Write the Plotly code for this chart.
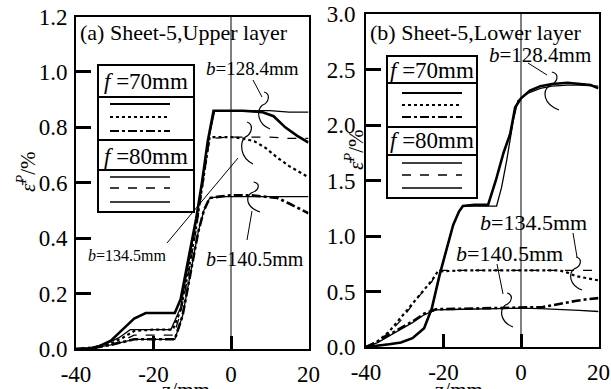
import plotly.graph_objects as go

W, H = 611, 389
FONT = "Liberation Serif"

# ---------------- data: panel (a) upper layer ----------------
a_b1284_f70_z = [-40, -37, -34, -31, -28, -25, -22, -18, -14.5, -13, -11, -9, -7.5, -6, -4.5, -2, 3, 8, 11, 14, 17, 20]
a_b1284_f70_v = [0, 0, 0.01, 0.03, 0.07, 0.11, 0.13, 0.13, 0.13, 0.18, 0.32, 0.47, 0.6, 0.75, 0.86, 0.86, 0.86, 0.855, 0.84, 0.8, 0.77, 0.745]
a_b1284_f80_z = [-40, -36, -32, -29, -26, -20, -15.5, -13, -11, -9, -7.5, -6, -4.2, 0, 5, 10, 15, 20]
a_b1284_f80_v = [0, 0.005, 0.02, 0.04, 0.07, 0.07, 0.07, 0.15, 0.3, 0.46, 0.6, 0.74, 0.86, 0.86, 0.86, 0.86, 0.855, 0.855]
a_b1345_f70_z = [-40, -35, -31, -28, -25, -20, -15, -13, -11, -9, -7.5, -6.5, -5.5, -3, 0, 3, 6, 9, 12, 15, 18, 20]
a_b1345_f70_v = [0, 0.005, 0.02, 0.04, 0.065, 0.07, 0.07, 0.14, 0.28, 0.44, 0.58, 0.68, 0.765, 0.765, 0.765, 0.76, 0.75, 0.725, 0.69, 0.66, 0.635, 0.62]
a_b1345_f80_z = [-40, -35, -31, -28, -25, -20, -14.8, -13, -11, -9, -7.5, -6.5, -5.5, 0, 5, 10, 15, 20]
a_b1345_f80_v = [0, 0.004, 0.015, 0.03, 0.05, 0.05, 0.05, 0.13, 0.27, 0.43, 0.57, 0.67, 0.76, 0.765, 0.765, 0.765, 0.76, 0.76]
a_b1405_f70_z = [-40, -35, -31, -28, -25, -20, -14.5, -12.5, -10.5, -8.5, -7, -5.5, -3, 0, 5, 9, 12, 15, 18, 20]
a_b1405_f70_v = [0, 0.005, 0.015, 0.025, 0.035, 0.035, 0.035, 0.12, 0.27, 0.42, 0.5, 0.545, 0.55, 0.555, 0.555, 0.55, 0.545, 0.525, 0.505, 0.49]
a_b1405_f80_z = [-40, -35, -31, -28, -25, -20, -14.5, -12.5, -10.5, -8.5, -7, -5.5, -3, 0, 5, 10, 15, 20]
a_b1405_f80_v = [0, 0.005, 0.015, 0.025, 0.035, 0.035, 0.035, 0.12, 0.27, 0.42, 0.5, 0.545, 0.55, 0.55, 0.55, 0.55, 0.55, 0.55]

# ---------------- data: panel (b) lower layer ----------------
b_b1284_f70_z = [-40, -37, -34, -31, -28, -25, -23, -21, -19, -17.5, -16, -15, -12, -8.5, -6.5, -4.5, -2.8, -1.5, 0, 2.3, 5, 8, 12, 15, 18, 20]
b_b1284_f70_v = [0, 0.01, 0.025, 0.04, 0.08, 0.17, 0.35, 0.65, 0.92, 1.1, 1.22, 1.27, 1.28, 1.28, 1.5, 1.75, 1.92, 2.16, 2.24, 2.31, 2.35, 2.37, 2.38, 2.37, 2.36, 2.33]
b_b1284_f80_z = [-40, -37, -34, -31, -28, -25, -23, -21, -19, -17.5, -16, -15, -12, -6.3, -5, -3.7, -2, -0.8, 2, 5, 8, 12, 15, 18, 20]
b_b1284_f80_v = [0, 0.01, 0.025, 0.04, 0.08, 0.17, 0.35, 0.65, 0.92, 1.1, 1.22, 1.27, 1.27, 1.27, 1.44, 1.68, 2.04, 2.22, 2.29, 2.33, 2.35, 2.36, 2.36, 2.35, 2.35]
b_b1345_f70_z = [-40, -37, -34, -31.4, -27, -23, -21.5, -15, -5, 0, 5, 10, 12, 14, 17, 20]
b_b1345_f70_v = [0, 0.05, 0.14, 0.25, 0.44, 0.6, 0.68, 0.69, 0.69, 0.69, 0.69, 0.69, 0.67, 0.64, 0.62, 0.6]
b_b1345_f80_z = [-40, -37, -34, -31, -27, -23, -21.5, -15, -5, 0, 5, 10, 15, 20]
b_b1345_f80_v = [0, 0.05, 0.13, 0.24, 0.43, 0.59, 0.69, 0.69, 0.69, 0.69, 0.69, 0.69, 0.69, 0.69]
b_b1405_f70_z = [-40, -37, -34, -31, -28, -25, -22, -15, -5, 0, 5.6, 8, 11.6, 14, 17, 20]
b_b1405_f70_v = [0, 0.05, 0.11, 0.17, 0.23, 0.3, 0.34, 0.345, 0.35, 0.355, 0.36, 0.375, 0.4, 0.415, 0.43, 0.44]
b_b1405_f80_z = [-40, -37, -34, -31, -28, -25, -22, -15, -5, 0, 5, 10, 15, 20]
b_b1405_f80_v = [0, 0.04, 0.1, 0.16, 0.22, 0.29, 0.335, 0.34, 0.345, 0.35, 0.345, 0.34, 0.33, 0.32]

a_yticks = [0.0, 0.2, 0.4, 0.6, 0.8, 1.0, 1.2]
b_yticks = [0.0, 0.5, 1.0, 1.5, 2.0, 2.5, 3.0]
xticks = [-40, -20, 0, 20]

# line styles: f=70 -> thick solid / dot / dashdot ; f=80 -> thin solid / dash / solid
STY = {
    ("f70", 0): dict(width=2.6, dash="solid"),
    ("f70", 1): dict(width=2.2, dash="dot"),
    ("f70", 2): dict(width=2.6, dash="dashdot"),
    ("f80", 0): dict(width=1.3, dash="solid"),
    ("f80", 1): dict(width=1.3, dash="dash"),
    ("f80", 2): dict(width=1.3, dash="solid"),
}

fig = go.Figure()

def add(z, v, key, xa, ya):
    s = STY[key]
    fig.add_trace(go.Scatter(x=z, y=v, mode="lines", xaxis=xa, yaxis=ya, showlegend=False,
                             line=dict(color="black", width=s["width"], dash=s["dash"])))

add(a_b1284_f80_z, a_b1284_f80_v, ("f80", 0), "x", "y")
add(a_b1345_f80_z, a_b1345_f80_v, ("f80", 1), "x", "y")
add(a_b1405_f80_z, a_b1405_f80_v, ("f80", 2), "x", "y")
add(a_b1284_f70_z, a_b1284_f70_v, ("f70", 0), "x", "y")
add(a_b1345_f70_z, a_b1345_f70_v, ("f70", 1), "x", "y")
add(a_b1405_f70_z, a_b1405_f70_v, ("f70", 2), "x", "y")

add(b_b1284_f80_z, b_b1284_f80_v, ("f80", 0), "x2", "y2")
add(b_b1345_f80_z, b_b1345_f80_v, ("f80", 1), "x2", "y2")
add(b_b1405_f80_z, b_b1405_f80_v, ("f80", 2), "x2", "y2")
add(b_b1284_f70_z, b_b1284_f70_v, ("f70", 0), "x2", "y2")
add(b_b1345_f70_z, b_b1345_f70_v, ("f70", 1), "x2", "y2")
add(b_b1405_f70_z, b_b1405_f70_v, ("f70", 2), "x2", "y2")

def px(x, y):
    return x / W, 1 - y / H

axis_common = dict(showline=True, linewidth=2, linecolor="black", mirror=True, automargin=False,
                   ticks="inside", tickwidth=2.5, tickcolor="black", showgrid=False, zeroline=False,
                   tickfont=dict(family=FONT, size=23, color="black"))

fig.update_layout(
    width=W, height=H, margin=dict(l=0, r=0, t=0, b=0, autoexpand=False),
    paper_bgcolor="white", plot_bgcolor="white", showlegend=False,
    xaxis=dict(domain=[76 / W, 308.5 / W], range=[-40, 20], tickvals=xticks, ticktext=[str(t) for t in xticks],
               ticklen=13, anchor="y", ticklabelstandoff=3, **axis_common),
    yaxis=dict(domain=[1 - 349 / H, 1 - 16.5 / H], range=[0, 1.2], tickvals=a_yticks,
               ticktext=[f"{t:.1f}" for t in a_yticks], ticklen=15, anchor="x", ticklabelstandoff=2, **axis_common),
    xaxis2=dict(domain=[366 / W, 598.5 / W], range=[-40, 20], tickvals=xticks, ticktext=[str(t) for t in xticks],
                ticklen=13, anchor="y2", ticklabelstandoff=3, **axis_common),
    yaxis2=dict(domain=[1 - 347 / H, 1 - 14 / H], range=[0, 3.0], tickvals=b_yticks,
                ticktext=[f"{t:.1f}" for t in b_yticks], ticklen=15, anchor="x2", ticklabelstandoff=4, **axis_common),
)

# vertical reference lines at z = 0
fig.add_shape(type="line", xref="x", yref="y domain", x0=0, x1=0, y0=0, y1=1, line=dict(color="black", width=1))
fig.add_shape(type="line", xref="x2", yref="y2 domain", x0=0, x1=0, y0=0, y1=1, line=dict(color="black", width=1))

def text(x, y, s, size=20, xanchor="center", yanchor="middle", angle=0):
    X, Y = px(x, y)
    fig.add_annotation(xref="paper", yref="paper", x=X, y=Y, text=s, showarrow=False,
                       xanchor=xanchor, yanchor=yanchor, textangle=angle,
                       font=dict(family=FONT, size=size, color="black"))

def seg(x0, y0, x1, y1, width=1, dash="solid"):
    X0, Y0 = px(x0, y0)
    X1, Y1 = px(x1, y1)
    fig.add_shape(type="line", xref="paper", yref="paper", x0=X0, y0=Y0, x1=X1, y1=Y1,
                  line=dict(color="black", width=width, dash=dash))

def rect(x0, y0, x1, y1):
    X0, Y0 = px(x0, y0)
    X1, Y1 = px(x1, y1)
    fig.add_shape(type="rect", xref="paper", yref="paper", x0=X0, y0=Y0, x1=X1, y1=Y1,
                  line=dict(color="black", width=2), fillcolor="white", layer="above")

def bracket(x0, y0, w, h):
    pts = [(x0 + 0.55 * w, y0), (x0 + 1.05 * w, y0 + 0.05 * h), (x0 + 0.95 * w, y0 + 0.28 * h),
           (x0 + 0.4 * w, y0 + 0.36 * h),
           (x0 - 0.05 * w, y0 + 0.5 * h), (x0 + 0.0 * w, y0 + 0.85 * h), (x0 + w, y0 + h)]
    P = [px(*p) for p in pts]
    d = "M {0},{1} C {2},{3} {4},{5} {6},{7} C {8},{9} {10},{11} {12},{13}".format(
        *[c for p in P for c in p])
    fig.add_shape(type="path", xref="paper", yref="paper", path=d, line=dict(color="black", width=1.2))

# panel titles
text(78, 32, "(a) Sheet-5,Upper layer", size=22, xanchor="left")
text(368, 32, "(b) Sheet-5,Lower layer", size=22, xanchor="left")

# axis titles
text(27, 172, "<i>ε̄</i><sup><i>P</i></sup>/%", size=21, angle=-90)
text(354, 150, "<i>ε̄</i><sup><i>P</i></sup>/%", size=21, angle=-90)
text(186, 376, "z/mm", size=21, yanchor="top")
text(459, 376, "z/mm", size=21, yanchor="top")

# legend boxes
def legend_box(x0, y0, x1, y1, seps, hdr_y, lx0, lx1, ly):
    rect(x0, y0, x1, y1)
    for s in seps:
        seg(x0, s, x1, s, width=2)
    text((x0 + x1) / 2, hdr_y[0], "<i>f</i> =70mm", size=23)
    text((x0 + x1) / 2, hdr_y[1], "<i>f</i> =80mm", size=23)
    keys = [("f70", 0), ("f70", 1), ("f70", 2), ("f80", 0), ("f80", 1), ("f80", 2)]
    for k, yy in zip(keys, ly):
        s = STY[k]
        seg(lx0, yy, lx1, yy, width=min(s["width"], 2.2), dash=s["dash"])

legend_box(98, 65, 194, 212, [97, 140, 170], [82, 156], 110, 170, [104, 117, 131, 177, 188, 202])
legend_box(387, 56, 477, 198, [83, 127, 155], [70, 141], 402, 462, [93, 105, 117, 163, 175, 188])

# labels, leaders and brackets: panel (a)
text(252, 69, "<i>b</i>=128.4mm", size=19)
seg(253, 80, 262, 97)
bracket(257, 92, 13, 37)
text(127, 255, "<i>b</i>=134.5mm", size=16)
seg(167, 243, 238, 158)
bracket(240, 122, 13, 42)
text(255, 259, "<i>b</i>=140.5mm", size=20)
seg(247, 240, 252, 211)
bracket(246, 182, 14, 30)

# panel (b)
text(540, 55, "<i>b</i>=128.4mm", size=21)
seg(528, 63, 547, 75)
bracket(543, 72, 16, 38)
text(533, 222, "<i>b</i>=134.5mm", size=22)
seg(573, 233, 577, 257)
bracket(569, 257, 13, 33)
text(509, 253, "<i>b</i>=140.5mm", size=22)
seg(497, 264, 503, 294)
bracket(500, 293, 13, 34)

fig.write_html("out.html", post_script="document.body.style.margin='0';",
               config={"displayModeBar": False})
